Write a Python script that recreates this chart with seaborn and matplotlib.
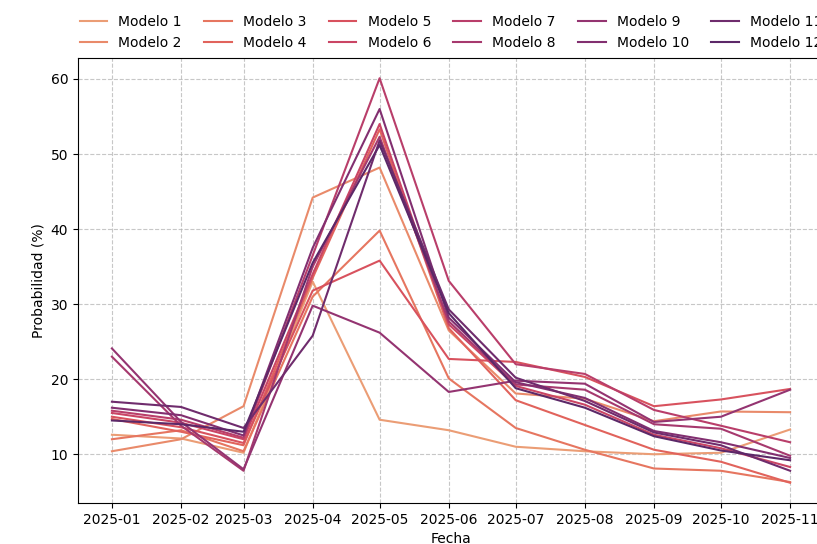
import pandas as pd
import matplotlib.pyplot as plt
import matplotlib.dates as mdates
import seaborn as sns

# Fechas (inicio de cada mes)
fechas = pd.date_range('2025-01-01', '2025-11-01', freq='MS')

# Probabilidad (%) por modelo
modelo_1 = [12.6, 12.1, 10.2, 33.0, 14.6, 13.2, 11.0, 10.4, 10.0, 10.2, 13.3]
modelo_2 = [10.4, 12.0, 16.4, 44.2, 48.2, 26.5, 18.1, 17.4, 14.4, 15.7, 15.6]
modelo_3 = [12.0, 13.2, 10.4, 31.0, 39.8, 20.1, 13.5, 10.6, 8.1, 7.8, 6.3]
modelo_4 = [14.7, 13.0, 11.2, 33.5, 53.3, 26.8, 17.2, 13.9, 10.6, 9.0, 6.2]
modelo_5 = [15.0, 13.6, 11.5, 31.8, 35.8, 22.7, 22.3, 20.3, 16.4, 17.3, 18.7]
modelo_6 = [15.5, 14.2, 12.0, 34.0, 54.0, 27.3, 19.1, 16.6, 12.6, 10.8, 8.3]
modelo_7 = [15.8, 14.6, 12.2, 36.5, 60.1, 33.1, 22.0, 20.7, 15.9, 13.8, 11.6]
modelo_8 = [23.0, 13.8, 7.8, 35.0, 52.3, 27.7, 19.3, 18.6, 14.0, 13.4, 9.8]
modelo_9 = [24.1, 14.3, 8.0, 29.8, 26.2, 18.3, 19.8, 19.4, 14.3, 15.0, 18.6]
modelo_10 = [16.2, 15.2, 12.5, 37.5, 56.0, 28.2, 19.6, 17.5, 13.1, 11.6, 9.5]
modelo_11 = [17.0, 16.3, 13.5, 25.8, 51.8, 29.3, 20.2, 17.1, 12.9, 11.2, 7.8]
modelo_12 = [14.5, 14.0, 13.0, 35.5, 51.2, 28.8, 18.8, 16.2, 12.4, 10.5, 9.2]

modelos = [modelo_1, modelo_2, modelo_3, modelo_4, modelo_5, modelo_6,
           modelo_7, modelo_8, modelo_9, modelo_10, modelo_11, modelo_12]
nombres = [f'Modelo {i}' for i in range(1, 13)]

colores = sns.color_palette('flare', len(modelos))

fig = plt.figure(figsize=(8.17, 5.44), dpi=100)
# el eje derecho queda fuera del lienzo, como en la imagen original recortada
ax = fig.add_axes([78 / 817, 41 / 544, 746 / 817, 445 / 544])

for nombre, valores, color in zip(nombres, modelos, colores):
    sns.lineplot(x=fechas, y=valores, ax=ax, color=color, label=nombre, linewidth=1.5)

ax.xaxis.set_major_locator(mdates.MonthLocator())
ax.xaxis.set_major_formatter(mdates.DateFormatter('%Y-%m'))
ax.set_xlabel('Fecha')
ax.set_ylabel('Probabilidad (%)')
ax.grid(True, linestyle='--', alpha=0.7)

ax.legend(loc='lower center', bbox_to_anchor=(0.5, 0.99), ncol=6,
          frameon=False, columnspacing=1.6)

plt.savefig('out.png', dpi=100)
